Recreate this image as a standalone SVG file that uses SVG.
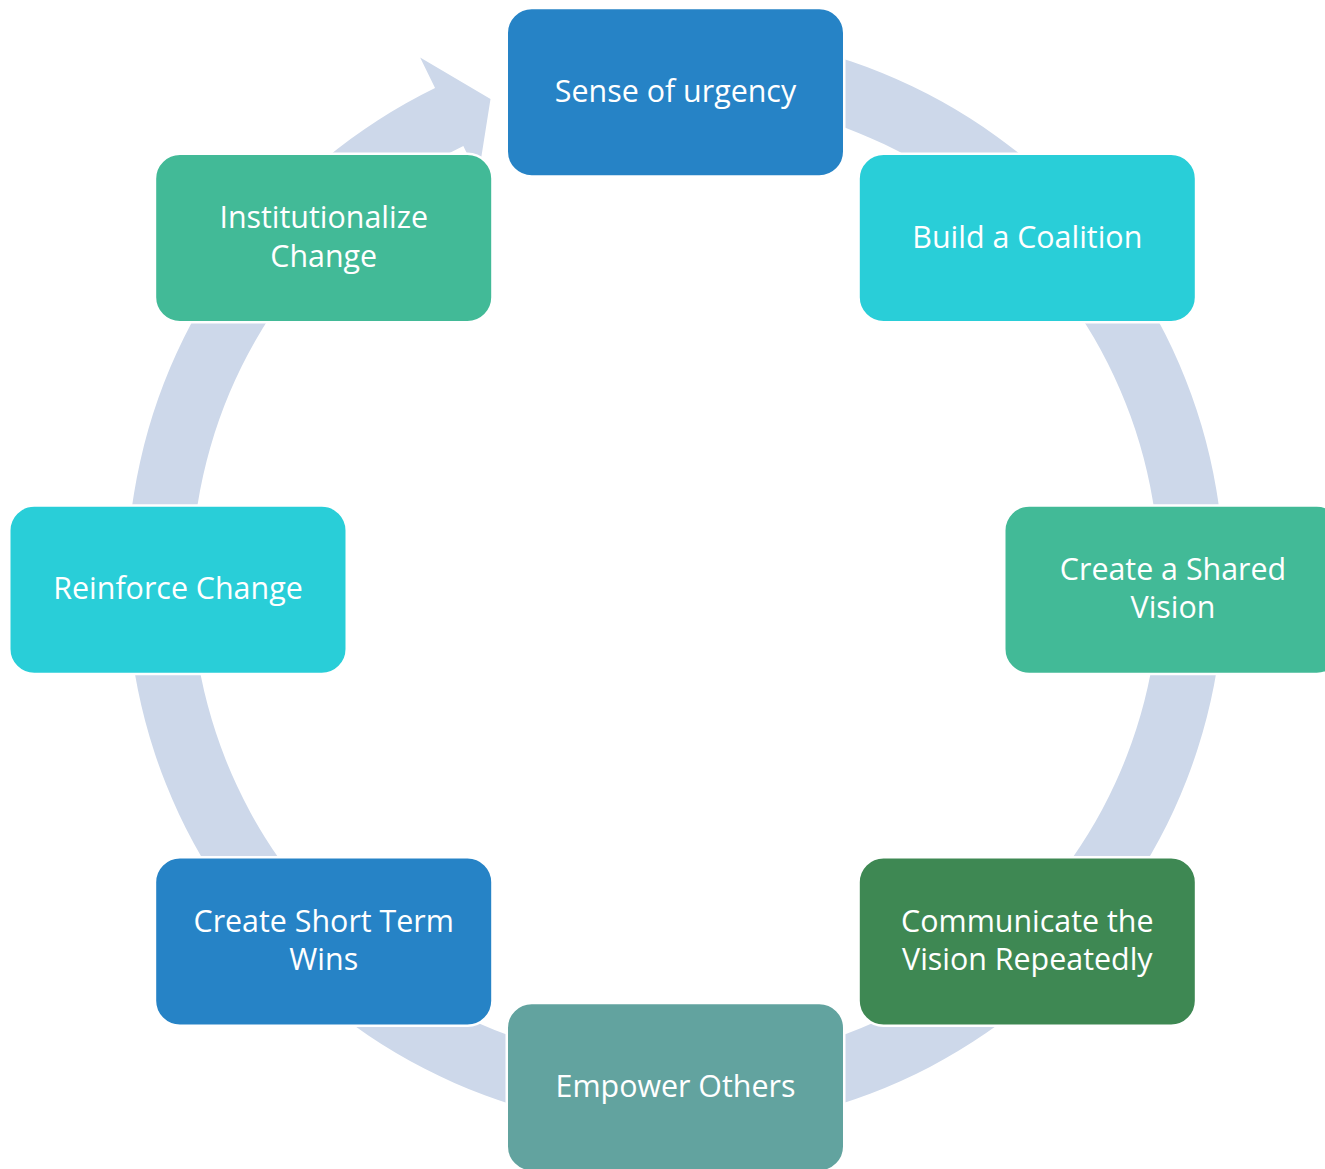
<svg xmlns="http://www.w3.org/2000/svg" width="1325" height="1169" viewBox="0 0 1325 1169">
  <style>
    .box { stroke: #ffffff; stroke-width: 2.5; }
    .lbl { font-family: "Open Sans", "Noto Sans", "Liberation Sans", sans-serif; font-size: 30.4px; fill: #ffffff; text-anchor: middle; }
    .ring { fill: #CDD8EA; }
  </style>
  <rect width="1325" height="1169" fill="#ffffff"/>
  <g id="connectors">
    <path class="ring" d="M 723.30 34.59 A 548.5 548.5 0 1 1 435.05 88.01 L 420.15 57.45 L 490.51 99.09 L 478.23 176.54 L 463.33 145.98 A 484 484 0 1 0 717.68 98.84 Z"/>
  </g>
  <g id="node-urgency">
    <rect class="box" x="506.75" y="8" width="337.5" height="168.5" rx="25" fill="#2683C6"/>
    <text class="lbl" x="675.5" y="101.9">Sense of urgency</text>
  </g>
  <g id="node-coalition">
    <rect class="box" x="858.55" y="153.75" width="337.5" height="168.5" rx="25" fill="#29CED8"/>
    <text class="lbl" x="1027.3" y="247.7">Build a Coalition</text>
  </g>
  <g id="node-vision">
    <rect class="box" x="1004.25" y="505.5" width="337.5" height="168.5" rx="25" fill="#42BA97"/>
    <text class="lbl" x="1173" y="579.8">Create a Shared</text>
    <text class="lbl" x="1173" y="618.3">Vision</text>
  </g>
  <g id="node-communicate">
    <rect class="box" x="858.55" y="857.3" width="337.5" height="168.5" rx="25" fill="#3E8853"/>
    <text class="lbl" x="1027.3" y="931.6">Communicate the</text>
    <text class="lbl" x="1027.3" y="970.1">Vision Repeatedly</text>
  </g>
  <g id="node-empower">
    <rect class="box" x="506.75" y="1003" width="337.5" height="168.5" rx="25" fill="#62A39F"/>
    <text class="lbl" x="675.5" y="1096.9">Empower Others</text>
  </g>
  <g id="node-shortterm">
    <rect class="box" x="154.95" y="857.3" width="337.5" height="168.5" rx="25" fill="#2683C6"/>
    <text class="lbl" x="323.7" y="931.6">Create Short Term</text>
    <text class="lbl" x="323.7" y="970.1">Wins</text>
  </g>
  <g id="node-reinforce">
    <rect class="box" x="9.25" y="505.5" width="337.5" height="168.5" rx="25" fill="#29CED8"/>
    <text class="lbl" x="178" y="599.4">Reinforce Change</text>
  </g>
  <g id="node-institutionalize">
    <rect class="box" x="154.95" y="153.75" width="337.5" height="168.5" rx="25" fill="#42BA97"/>
    <text class="lbl" x="323.7" y="228.2">Institutionalize</text>
    <text class="lbl" x="323.7" y="266.7">Change</text>
  </g>
</svg>
